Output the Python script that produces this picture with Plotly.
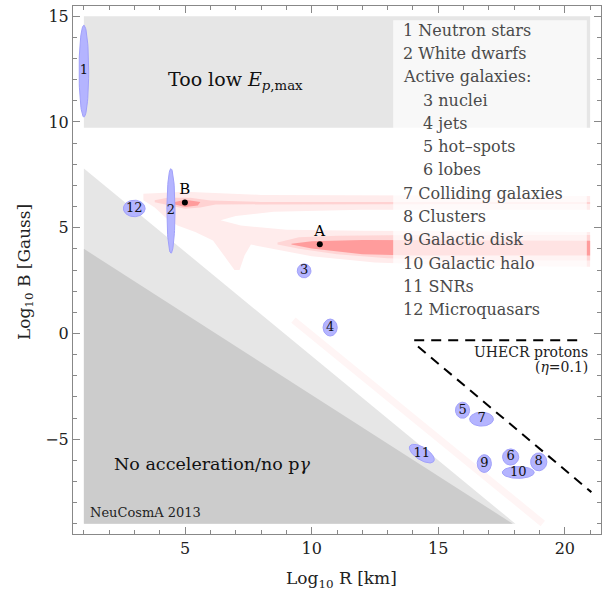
import numpy as np
import plotly.graph_objects as go

FONT = "DejaVu Serif"

# ---------------- data ----------------
src_labels = ["1", "2", "3", "4", "5", "6", "7", "8", "9", "10", "11", "12"]
src_logR = [1.0, 4.44, 9.70, 10.73, 15.96, 17.86, 16.71, 18.97, 16.82, 18.16, 14.35, 2.99]
src_logB = [12.4, 5.79, 2.96, 0.28, -3.63, -5.84, -4.05, -6.07, -6.15, -6.57, -5.68, 5.91]
src_half_w = [0.19, 0.16, 0.27, 0.28, 0.28, 0.32, 0.47, 0.32, 0.28, 0.63, 0.60, 0.43]
src_half_h = [2.17, 2.00, 0.33, 0.40, 0.38, 0.38, 0.33, 0.42, 0.42, 0.28, 0.28, 0.39]
src_tilt_deg = [0, 0, 0, 0, 0, 0, 0, 0, 0, 0, -40, 0]

legend_lines = ["1 Neutron stars", "2 White dwarfs", "Active galaxies:", "3 nuclei", "4 jets",
                "5 hot\u2013spots", "6 lobes", "7 Colliding galaxies", "8 Clusters",
                "9 Galactic disk", "10 Galactic halo", "11 SNRs", "12 Microquasars"]
legend_indent = [0, 0, 0, 1, 1, 1, 1, 0, 0, 0, 0, 0, 0]

points_label = ["A", "B"]
points_logR = [10.32, 4.99]
points_logB = [4.22, 6.19]

# excluded regions (log10 R, log10 B)
top_box_R = [1.0, 21.0]
top_box_B = [9.72, 15.0]
light_wedge_R = [1.0, 18.05, 1.0]
light_wedge_B = [7.8, -9.0, -9.0]
dark_wedge_R = [1.0, 17.95, 1.0]
dark_wedge_B = [4.0, -9.0, -9.0]

# UHECR proton (eta=0.1) boundary
uhecr_flat_R = [14.05, 20.75]
uhecr_flat_B = [-0.32, -0.32]
uhecr_diag_R = [14.2, 21.05]
uhecr_diag_B = [-0.62, -7.5]

# neutrino-production contour levels (light, medium, dark)
c1_R = [3.35, 5.0, 8.0, 21.0, 21.0, 12.0, 8.5, 7.0, 6.4, 7.2, 9.0, 12.0, 21.0, 21.0, 16.0, 12.5,
        10.0, 8.5, 7.6, 7.35, 7.15, 6.95, 6.6, 6.1, 5.4, 4.7, 4.3, 3.8, 3.35]
c1_B = [6.6, 6.7, 6.55, 6.5, 5.85, 5.85, 5.75, 5.55, 5.35, 5.1, 4.9, 4.85, 4.8, 3.15, 3.2, 3.35,
        3.65, 4.0, 4.2, 3.7, 3.0, 3.0, 3.6, 4.4, 4.8, 5.1, 5.4, 5.95, 6.3]
c2a_R = [3.8, 4.3, 5.2, 6.0, 8.0, 21.0, 21.0, 8.0, 6.2, 5.6, 5.0, 4.4, 3.8]
c2a_B = [6.3, 6.42, 6.42, 6.28, 6.22, 6.22, 6.12, 6.12, 6.1, 5.95, 5.9, 6.05, 6.2]
c2b_R = [8.65, 9.5, 11.0, 14.0, 21.0, 21.0, 16.0, 13.0, 11.0, 9.5, 8.65]
c2b_B = [4.3, 4.55, 4.62, 4.65, 4.66, 3.45, 3.45, 3.55, 3.75, 4.0, 4.2]
c3a_R = [4.55, 5.0, 5.6, 5.5, 5.0, 4.6, 4.55]
c3a_B = [6.2, 6.32, 6.22, 6.05, 5.98, 6.1, 6.2]
c3b_R = [9.2, 10.0, 12.0, 21.0, 21.0, 14.0, 12.0, 11.0, 10.0, 9.2]
c3b_B = [4.24, 4.36, 4.42, 4.38, 3.68, 3.68, 3.75, 3.88, 4.02, 4.2]
diag_R = [9.28, 12.0, 15.86, 19.13]
diag_B = [0.63, -2.05, -5.84, -8.98]

x_ticks = [5, 10, 15, 20]
y_ticks = [-5, 0, 5, 10, 15]

# ---------------- figure ----------------
fig = go.Figure()

def poly(xs, ys, color):
    fig.add_trace(go.Scatter(x=xs, y=ys, fill="toself", fillcolor=color, mode="lines",
                             line=dict(width=0, color=color), hoverinfo="skip", showlegend=False))

poly([top_box_R[0], top_box_R[1], top_box_R[1], top_box_R[0]],
     [top_box_B[0], top_box_B[0], top_box_B[1], top_box_B[1]], "#e6e6e6")
poly(light_wedge_R, light_wedge_B, "#e6e6e6")
poly(dark_wedge_R, dark_wedge_B, "#cccccc")

fig.add_trace(go.Scatter(x=diag_R, y=diag_B, mode="lines", line=dict(color="#fff5f5", width=7),
                         hoverinfo="skip", showlegend=False))
poly(c1_R, c1_B, "#ffecec")
poly(c2a_R, c2a_B, "#ffd2d2")
poly(c2b_R, c2b_B, "#ffd6d6")
poly(c3a_R, c3a_B, "#ff9c9c")
poly(c3b_R, c3b_B, "#ff9c9c")

# source ellipses
t = np.linspace(0, 2 * np.pi, 80)
for lab, cx, cy, a, b, ang in zip(src_labels, src_logR, src_logB, src_half_w, src_half_h, src_tilt_deg):
    th = np.deg2rad(ang)
    ex = cx + a * np.cos(th) * np.cos(t) - b * np.sin(th) * np.sin(t)
    ey = cy + a * np.sin(th) * np.cos(t) + b * np.cos(th) * np.sin(t)
    fig.add_trace(go.Scatter(x=ex, y=ey, fill="toself", fillcolor="rgb(180,180,255)", mode="lines",
                             line=dict(color="rgb(160,160,250)", width=1), hoverinfo="skip",
                             showlegend=False))
fig.add_trace(go.Scatter(x=src_logR, y=src_logB, mode="text", text=src_labels,
                         textfont=dict(family=FONT, size=13, color="#111"),
                         hoverinfo="skip", showlegend=False))

# A, B points
fig.add_trace(go.Scatter(x=points_logR, y=points_logB, mode="markers+text", text=points_label,
                         textposition="top center",
                         marker=dict(color="black", size=6),
                         textfont=dict(family=FONT, size=15, color="black"),
                         hoverinfo="skip", showlegend=False))

# UHECR dashed lines
for xs, ys in [(uhecr_flat_R, uhecr_flat_B), (uhecr_diag_R, uhecr_diag_B)]:
    fig.add_trace(go.Scatter(x=xs, y=ys, mode="lines",
                             line=dict(color="black", width=2, dash="10px,7px"),
                             hoverinfo="skip", showlegend=False))

# legend box
fig.add_shape(type="rect", x0=13.22, x1=20.87, y0=0.63, y1=14.81, xref="x", yref="y",
              fillcolor="rgba(255,255,255,0.72)", line=dict(width=0), layer="above")

ann = []
y0_leg, dy_leg = 14.33, 1.10
for i, (txt, ind) in enumerate(zip(legend_lines, legend_indent)):
    ann.append(dict(x=13.52 + 0.79 * ind, y=y0_leg - i * dy_leg, text=txt, xref="x", yref="y",
                    xanchor="left", yanchor="middle", showarrow=False,
                    font=dict(family=FONT, size=16, color="#4a4a4a")))

ann += [
    dict(x=6.98, y=11.94, text="Too low <i>E</i><sub><i>p</i>,max</sub>", xref="x", yref="y",
         showarrow=False, font=dict(family=FONT, size=19, color="#111")),
    dict(x=6.05, y=-6.18, text="No acceleration/no p<i>γ</i>", xref="x", yref="y",
         showarrow=False, font=dict(family=FONT, size=17.5, color="#111")),
    dict(x=1.17, y=-8.48, text="NeuCosmA 2013", xref="x", yref="y", xanchor="left",
         showarrow=False, font=dict(family=FONT, size=13, color="#222")),
    dict(x=21.0, y=-0.87, text="UHECR protons", xref="x", yref="y", xanchor="right",
         showarrow=False, font=dict(family=FONT, size=14, color="#222")),
    dict(x=21.0, y=-1.58, text="(<i>η</i>=0.1)", xref="x", yref="y", xanchor="right",
         showarrow=False, font=dict(family=FONT, size=14, color="#222")),
    dict(x=0.509, y=-0.087, text="Log<sub>10</sub> R [km]", xref="paper", yref="paper",
         xanchor="center", yanchor="middle",
         showarrow=False, font=dict(family=FONT, size=17, color="#222")),
    dict(x=-0.091, y=0.496, text="Log<sub>10</sub> B [Gauss]", xref="paper", yref="paper",
         xanchor="center", yanchor="middle",
         textangle=-90, showarrow=False, font=dict(family=FONT, size=17, color="#222")),
]

axis_common = dict(showgrid=False, zeroline=False, showline=True, linecolor="#888", linewidth=1,
                   mirror="ticks", ticks="inside", ticklen=7, tickcolor="#888",
                   tickfont=dict(family=FONT, size=16, color="#222"),
                   minor=dict(ticks="inside", ticklen=4, tickcolor="#888", dtick=1, showgrid=False))

fig.update_layout(
    width=611, height=597,
    margin=dict(l=73, r=10, t=6, b=63),
    plot_bgcolor="white", paper_bgcolor="white",
    xaxis=dict(range=[0.57, 21.43], tickvals=x_ticks, **axis_common),
    yaxis=dict(range=[-9.48, 15.48], tickvals=y_ticks, **axis_common),
    annotations=ann,
    showlegend=False,
)
fig.write_html("out.html", config={"displayModeBar": False},
               post_script="document.body.style.margin='0';document.body.style.overflow='hidden';")
